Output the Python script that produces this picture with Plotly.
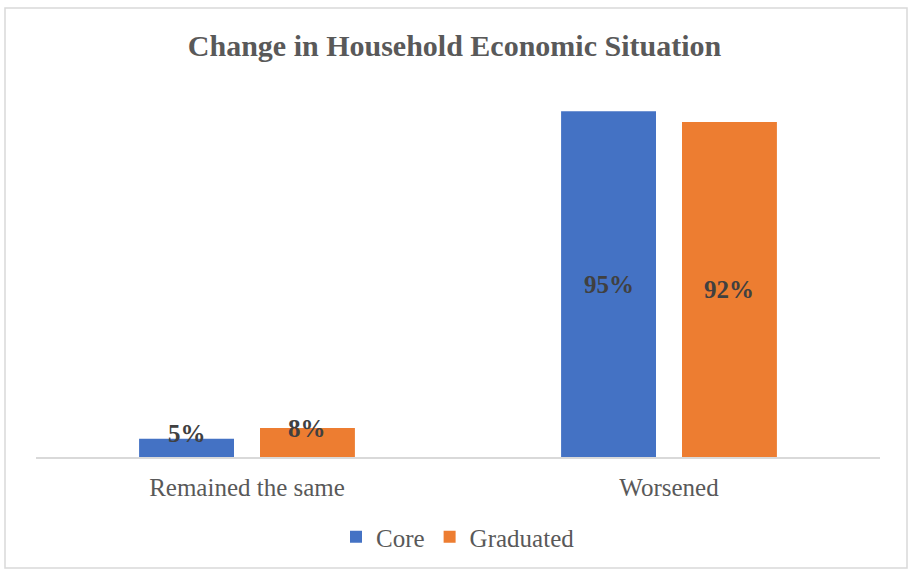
import plotly.graph_objects as go

# Survey results: change in household economic situation
categories = ["Remained the same", "Worsened"]
core = [5, 95]
graduated = [8, 92]
series_names = ["Core", "Graduated"]
series_colors = ["#4472C4", "#ED7D31"]

W, H = 909, 569
M_L, M_R, M_T, M_B = 36, 29, 93, 112
SERIF = "Liberation Serif, Times New Roman, serif"

fig = go.Figure()
for name, vals, color in zip(series_names, [core, graduated], series_colors):
    fig.add_trace(go.Bar(
        name=name, x=categories, y=vals,
        marker=dict(color=color, line=dict(width=0)),
        hoverinfo="skip",
    ))

# Value labels centred in each bar; short bars get lifted so the text stays readable
annotations = []
n = len(series_names)
for i, vals in enumerate([core, graduated]):
    for j, v in enumerate(vals):
        offset = (i - (n - 1) / 2) * 0.2865
        annotations.append(dict(
            x=j + offset, y=v / 2, xref="x", yref="y",
            text=f"<b>{v}%</b>", showarrow=False,
            yanchor="middle", yshift=14 if v < 15 else 0,
            font=dict(family=SERIF, size=25, color="#404040"),
        ))

plot_w = W - M_L - M_R
plot_h = H - M_T - M_B

fig.update_layout(
    width=W, height=H,
    margin=dict(l=M_L, r=M_R, t=M_T, b=M_B, autoexpand=False),
    paper_bgcolor="white", plot_bgcolor="white",
    barmode="group", bargap=0.427, bargroupgap=0.215,
    title=dict(
        text="<b>Change in Household Economic Situation</b>",
        x=0.5, xanchor="center", y=1 - 45 / H, yanchor="middle",
        font=dict(family=SERIF, size=30, color="#595959"),
    ),
    xaxis=dict(
        type="category", showline=True, linecolor="#D9D9D9", linewidth=1.5,
        ticks="", showgrid=False, zeroline=False,
        tickfont=dict(family=SERIF, size=25, color="#595959"),
        ticklabelstandoff=7,
    ),
    yaxis=dict(range=[0, 100], visible=False, showgrid=False, zeroline=False),
    showlegend=True,
    legend=dict(
        orientation="h", x=0.5, xanchor="center",
        y=-(537 - (H - M_B)) / plot_h, yanchor="middle",
        font=dict(family=SERIF, size=25, color="#595959"),
        itemwidth=30, traceorder="normal",
    ),
    annotations=annotations,
    shapes=[dict(
        type="rect", xref="paper", yref="paper",
        x0=(5 - M_L) / plot_w, x1=(907 - M_L) / plot_w,
        y0=-(H - 1 - (H - M_B)) / plot_h, y1=1 + (M_T - 8) / plot_h,
        line=dict(color="#D9D9D9", width=1.5), fillcolor="rgba(0,0,0,0)",
        layer="below",
    )],
)

fig.write_html("out.html")
